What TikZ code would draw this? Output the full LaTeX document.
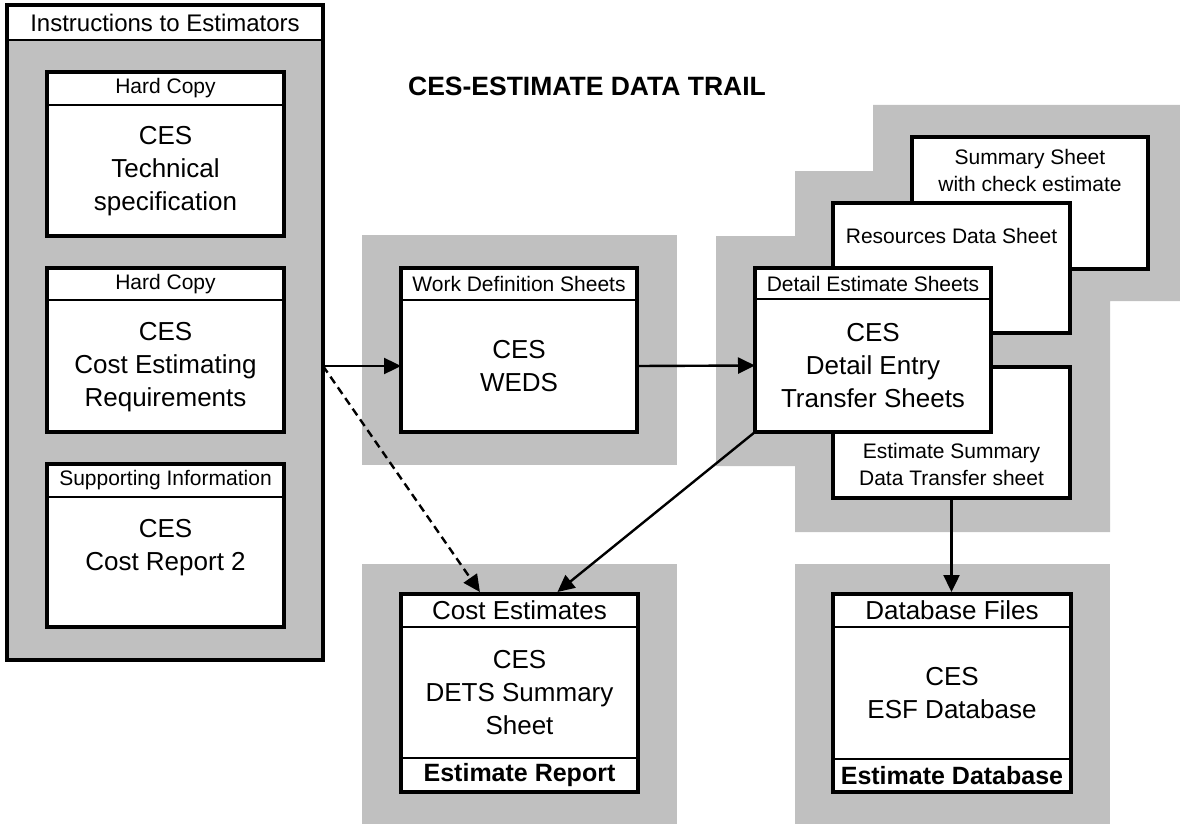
\documentclass[tikz,border=0pt]{standalone}
\usepackage{fontspec}
\setmainfont{Liberation Sans}
\usetikzlibrary{arrows.meta,calc}
\definecolor{bg}{HTML}{C0C0C0}
\begin{document}
\begin{tikzpicture}[x=1pt,y=-1pt,
  part/.style={draw, fill=white, line width=2.4pt, rectangle, inner sep=0pt, outer sep=0pt, align=center},
  frame/.style={draw, line width=3.2pt},
  hs/.style={font=\fontsize{21}{27}\selectfont},
  hl/.style={font=\fontsize{26}{32}\selectfont},
  bs/.style={font=\fontsize{26}{33}\selectfont, align=center},
  ss/.style={font=\fontsize{21}{27}\selectfont, align=center},
  fb/.style={font=\fontsize{25}{30}\selectfont\bfseries},
  plain/.style={inner sep=0pt, outer sep=0pt},
  arr/.style={line width=2.4pt, -{Triangle[length=17pt,width=16pt]}},
]
\useasboundingbox (0,0) rectangle (1180,824);
\fill[white] (0,0) rectangle (1180,824);

% gray backgrounds
\fill[bg] (362,235) rectangle (677,465);
\fill[bg] (362,564) rectangle (677,824);
\fill[bg] (795,564) rectangle (1110,824);
\fill[bg] (716,236) -- (795,236) -- (795,171) -- (873,171) -- (873,105) -- (1180,105)
  -- (1180,301) -- (1110,301) -- (1110,532) -- (795,532) -- (795,466) -- (716,466) -- cycle;

% title
\node[plain, font=\fontsize{26.5}{30}\selectfont\bfseries] (title) at (587,86.5) {CES-ESTIMATE DATA TRAIL};

% left outer box
\node[part, minimum width=316pt, minimum height=35pt, font=\fontsize{24}{28}\selectfont] (instrhdr) at (165,22.5) {Instructions to Estimators};
\node[part, fill=bg, minimum width=316pt, minimum height=620pt] (instrbody) at (165,350) {};
\draw[frame] (instrhdr.north west) rectangle (instrbody.south east);

% box 1
\node[part, hs, minimum width=237pt, minimum height=33pt] (b1hdr) at (165.5,88.5) {Hard Copy};
\node[part, minimum width=237pt, minimum height=131pt] (b1body) at (165.5,170.5) {};
\node[plain, bs] (b1txt) at (165.5,171) {CES\\Technical\\specification};
\draw[frame] (b1hdr.north west) rectangle (b1body.south east);

% box 2
\node[part, hs, minimum width=237pt, minimum height=32pt] (b2hdr) at (165.5,284) {Hard Copy};
\node[part, minimum width=237pt, minimum height=132pt] (b2body) at (165.5,366) {};
\node[plain, bs] (b2txt) at (165.5,367) {CES\\Cost Estimating\\Requirements};
\draw[frame] (b2hdr.north west) rectangle (b2body.south east);

% box 3
\node[part, hs, minimum width=237pt, minimum height=33pt] (b3hdr) at (165.5,480.5) {Supporting Information};
\node[part, minimum width=237pt, minimum height=130pt] (b3body) at (165.5,562) {};
\node[plain, bs] (b3txt) at (165.5,548) {CES\\Cost Report 2};
\draw[frame] (b3hdr.north west) rectangle (b3body.south east);

% WEDS
\node[part, hs, minimum width=236pt, minimum height=32pt] (wedshdr) at (519,284) {Work Definition Sheets};
\node[part, bs, minimum width=236pt, minimum height=132pt] (wedsbody) at (519,366) {CES\\WEDS};
\draw[frame] (wedshdr.north west) rectangle (wedsbody.south east);

% stacked sheets
\node[part, line width=3.2pt, minimum width=236pt, minimum height=132pt] (summ) at (1030,203) {};
\node[plain, ss] (summtxt) at (1030,170.5) {Summary Sheet\\with check estimate};
\node[part, line width=3.2pt, minimum width=237pt, minimum height=130pt] (res) at (951.5,268) {};
\node[plain, ss] (restxt) at (951.5,235.5) {Resources Data Sheet};
\node[part, line width=3.2pt, minimum width=237pt, minimum height=131pt] (estsum) at (951.5,432.5) {};
\node[plain, ss] (estsumtxt) at (951.5,464.5) {Estimate Summary\\Data Transfer sheet};

% Detail
\node[part, hs, minimum width=236pt, minimum height=31pt] (dethdr) at (873,283.5) {Detail Estimate Sheets};
\node[part, bs, minimum width=236pt, minimum height=133pt] (detbody) at (873,365.5) {CES\\Detail Entry\\Transfer Sheets};
\draw[frame] (dethdr.north west) rectangle (detbody.south east);

% Cost estimates
\node[part, hl, minimum width=237pt, minimum height=33pt] (costhdr) at (519.5,610.5) {Cost Estimates};
\node[part, bs, minimum width=237pt, minimum height=131pt] (costbody) at (519.5,692.5) {CES\\DETS Summary\\Sheet};
\node[part, fb, minimum width=237pt, minimum height=34pt] (costftr) at (519.5,775) {Estimate Report};
\draw[frame] (costhdr.north west) rectangle (costftr.south east);

% Database
\node[part, hl, minimum width=238pt, minimum height=33pt] (dbhdr) at (952,610.5) {Database Files};
\node[part, bs, minimum width=238pt, minimum height=132pt] (dbbody) at (952,693) {CES\\ESF Database};
\node[part, fb, minimum width=238pt, minimum height=33pt] (dbftr) at (952,775.5) {Estimate Database};
\draw[frame] (dbhdr.north west) rectangle (dbftr.south east);

% connectors
\coordinate (src) at (instrbody.east |- wedsbody.west);
\coordinate (d1) at ($(costhdr.north west)!0.333!(costhdr.north east)+(0,-2)$);
\coordinate (d2) at ($(costhdr.north west)!0.66!(costhdr.north east)+(0,-2)$);
\coordinate (d3) at ($(estsum.south |- dbhdr.north)+(0,-2)$);
\draw[arr] (src) -- (wedsbody.west);
\draw[arr, dash pattern=on 8pt off 5pt] (src) -- (d1);
\draw[arr] (wedsbody.east) -- (detbody.west);
\draw[arr] (detbody.south west) -- (d2);
\draw[arr] (estsum.south) -- (d3);
\end{tikzpicture}
\end{document}
